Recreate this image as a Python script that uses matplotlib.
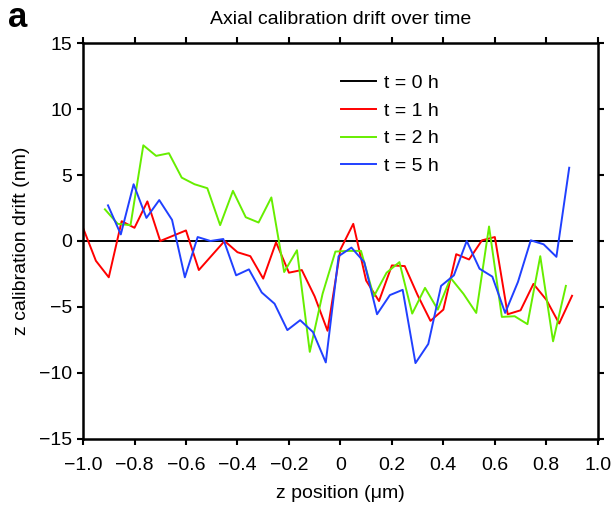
import numpy as np
import matplotlib
matplotlib.use('Agg')
import matplotlib.pyplot as plt

plt.rcParams['font.family'] = ['Liberation Sans', 'DejaVu Sans']

# z positions (um) of each measurement series
z_t1 = np.round(np.arange(-1.0, 0.901, 0.05), 3)
z_t2 = np.linspace(-0.915, 0.876, 37)
z_t5 = np.linspace(-0.903, 0.889, 37)

# calibration drift (nm)
drift_t0 = np.zeros(len(z_t1))
drift_t1 = [1.0, -1.5, -2.75, 1.5, 1.0, 3.0, 0.0, 0.4, 0.8, -2.2,
            -1.1, 0.0, -0.85, -1.15, -2.85, -0.1, -2.4, -2.2, -4.2, -6.8,
            -0.65, 1.3, -3.0, -4.55, -1.85, -1.9, -4.1, -6.05, -5.2, -1.0,
            -1.4, 0.05, 0.3, -5.55, -5.25, -3.25, -4.45, -6.25, -4.15]
drift_t2 = [2.4, 1.3, 1.2, 7.25, 6.45, 6.65, 4.8, 4.3, 4.0, 1.2,
            3.8, 1.8, 1.4, 3.3, -2.35, -0.7, -8.4, -4.0, -0.8, -0.75,
            -0.75, -4.2, -2.4, -1.6, -5.5, -3.55, -5.2, -2.8, -4.0, -5.45,
            1.1, -5.75, -5.7, -6.3, -1.15, -7.6, -3.4]
drift_t5 = [2.7, 0.5, 4.3, 1.75, 3.1, 1.6, -2.75, 0.3, 0.0, 0.15,
            -2.6, -2.15, -3.9, -4.75, -6.75, -6.0, -6.9, -9.2, -1.15, -0.5,
            -1.6, -5.55, -4.1, -3.7, -9.25, -7.8, -3.4, -2.6, 0.0, -2.1,
            -2.7, -5.45, -3.1, 0.05, -0.25, -1.2, 5.55]

x_ticks = [-1.0, -0.8, -0.6, -0.4, -0.2, 0, 0.2, 0.4, 0.6, 0.8, 1.0]
x_ticklabels = ['\u22121.0', '\u22120.8', '\u22120.6', '\u22120.4', '\u22120.2',
                '0', '0.2', '0.4', '0.6', '0.8', '1.0']
y_ticks = [-15, -10, -5, 0, 5, 10, 15]

fs = 14

fig = plt.figure(figsize=(6.15, 5.12), dpi=100)
ax = fig.add_axes([0.135, 0.1426, 0.837, 0.7734])

lw = 1.4
ax.plot(z_t1, drift_t0, color='black', lw=lw, label='t = 0 h')
ax.plot(z_t1, drift_t1, color='#ff0000', lw=lw, label='t = 1 h')
ax.plot(z_t2, drift_t2, color='#66ee00', lw=lw, label='t = 2 h')
ax.plot(z_t5, drift_t5, color='#2040ff', lw=lw, label='t = 5 h')

ax.set_xlim(-1.0, 1.0)
ax.set_ylim(-15, 15)
ax.set_xticks(x_ticks)
ax.set_xticklabels(x_ticklabels)
ax.set_yticks(y_ticks)
ax.set_yticklabels([str(v).replace('-', '\u2212') for v in y_ticks])
ax.tick_params(direction='out', length=4, width=1.5, labelsize=fs,
               top=True, right=True, pad=4)
ax.tick_params(axis='x', pad=9)
for s in ax.spines.values():
    s.set_linewidth(1.8)

ax.set_xlabel('z position (\u03bcm)', fontsize=fs, labelpad=8)
ax.set_ylabel('z calibration drift (nm)', fontsize=fs, labelpad=6)
ax.set_title('Axial calibration drift over time', fontsize=fs, pad=14)
fig.text(0.013, 0.965, 'a', fontsize=25, fontweight='bold', va='center')

ax.legend(loc='upper left', bbox_to_anchor=(0.468, 0.965), frameon=False,
          fontsize=fs, handlelength=1.8, handletextpad=0.4, labelspacing=0.52)

fig.savefig('out.png', dpi=100)
